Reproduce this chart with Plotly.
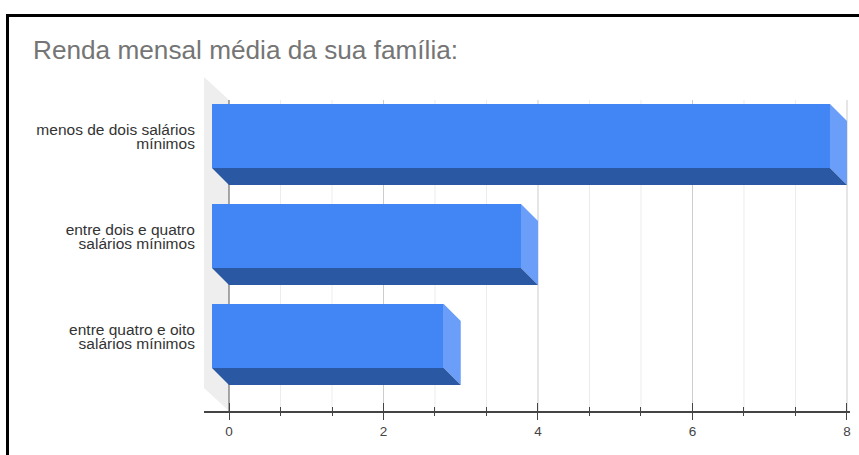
import plotly.graph_objects as go

W, H = 859, 455
title = "Renda mensal média da sua família:"
categories = ["menos de dois salários<br>mínimos",
              "entre dois e quatro<br>salários mínimos",
              "entre quatro e oito<br>salários mínimos"]
values = [8, 4, 3]
major_ticks = [0, 2, 4, 6, 8]
minor_ticks = [2 / 3, 4 / 3, 8 / 3, 10 / 3, 14 / 3, 16 / 3, 20 / 3, 22 / 3]

FRONT, BOTTOM, SIDE = "#4285f4", "#2b58a2", "#6a9ef8"
XR = [-0.3236, 8.039]
YR = [2.58, -0.76]
DX, DY = 17 / 77.25, 0.17
HALF = 0.32
GRID_TOP = -0.53
LABEL_NUDGE = 0.04

def poly(xs, ys, color):
    return go.Scatter(x=xs, y=ys, mode="lines", fill="toself", fillcolor=color,
                      line=dict(width=0), hoverinfo="skip", showlegend=False)

def vlines(xs, color, width):
    px, py = [], []
    for v in xs:
        px += [v, v, None]
        py += [GRID_TOP, YR[0], None]
    return go.Scatter(x=px, y=py, mode="lines", line=dict(color=color, width=width),
                      hoverinfo="skip", showlegend=False)

fig = go.Figure()
fig.add_trace(poly([XR[0], 0, 0, XR[0], XR[0]], [YR[1], GRID_TOP, YR[0], 2.35, YR[1]], "#eeeeee"))
fig.add_trace(vlines(minor_ticks, "#ececec", 1))
fig.add_trace(vlines(major_ticks[1:], "#cccccc", 1))
fig.add_trace(vlines(major_ticks[:1], "#555555", 1))

for i, v in enumerate(values):
    top, bot = i - HALF, i + HALF
    fx = v - DX
    fig.add_trace(poly([fx, v, v, fx, fx], [top - DY, top, bot, bot - DY, top - DY], SIDE))
    fig.add_trace(poly([-DX, fx, v, 0, -DX], [bot - DY, bot - DY, bot, bot, bot - DY], BOTTOM))
    fig.add_trace(poly([-DX, fx, fx, -DX, -DX], [top - DY, top - DY, bot - DY, bot - DY, top - DY], FRONT))

l, r, t, b = 204, W - 850, 77, H - 411
def fx_paper(p): return (p - l) / (W - l - r)
def fy_paper(p): return 1 - (p - t) / (H - t - b)

shapes = [
    dict(type="line", xref="paper", yref="paper", x0=fx_paper(6), x1=fx_paper(859),
         y0=fy_paper(15.5), y1=fy_paper(15.5), line=dict(color="black", width=3)),
    dict(type="line", xref="paper", yref="paper", x0=fx_paper(7.5), x1=fx_paper(7.5),
         y0=fy_paper(14), y1=fy_paper(455), line=dict(color="black", width=3)),
]

fig.update_layout(
    width=W, height=H, autosize=False,
    margin=dict(l=l, r=r, t=t, b=b, pad=0),
    paper_bgcolor="white", plot_bgcolor="white",
    showlegend=False, hovermode=False,
    shapes=shapes,
    font=dict(family="Liberation Sans, Arial, sans-serif"),
    title=dict(text=title, x=33 / W, xanchor="left", y=1 - 50 / H, yanchor="middle",
               font=dict(size=26.2, color="#757575")),
    xaxis=dict(range=XR, showgrid=False, zeroline=False, showline=True, linecolor="#444444",
               linewidth=1.5, tickmode="array", tickvals=major_ticks, ticks="outside",
               ticklen=7, tickwidth=1, tickcolor="#444444",
               tickfont=dict(size=13.5, color="#444444"),
               minor=dict(tickmode="array", tickvals=minor_ticks, ticks="outside",
                          ticklen=3, tickwidth=1, tickcolor="#444444", showgrid=False)),
    xaxis2=dict(range=XR, overlaying="x", anchor="y", side="bottom", showgrid=False,
                zeroline=False, showline=False, showticklabels=False, tickmode="array",
                tickvals=major_ticks, ticks="inside", ticklen=8, tickwidth=1,
                tickcolor="#444444",
                minor=dict(tickmode="array", tickvals=minor_ticks, ticks="inside",
                           ticklen=4, tickwidth=1, tickcolor="#444444", showgrid=False)),
    yaxis=dict(range=YR, showgrid=False, zeroline=False, showline=False, tickmode="array",
               tickvals=[i - DY + LABEL_NUDGE for i in range(len(categories))],
               ticktext=categories, ticks="outside", ticklen=5,
               tickcolor="rgba(0,0,0,0)", tickfont=dict(size=15.5, color="#333333")),
)
fig.add_trace(go.Scatter(x=[major_ticks[0]], y=[0], xaxis="x2", mode="markers",
                         marker=dict(opacity=0), hoverinfo="skip", showlegend=False))

# the reference sets its two-line category labels tighter than plotly's 1.3em
tighten = """
document.body.style.margin='0';
function tightenLabels(){
  document.querySelectorAll('.ytick text').forEach(function(t){
    var lines=t.querySelectorAll('tspan.line');
    if(lines.length>1){lines[1].setAttribute('dy','0.9em');}
  });
}
tightenLabels();
setTimeout(tightenLabels,50);
"""
fig.write_html("out.html", config=dict(displayModeBar=False), post_script=tighten)
